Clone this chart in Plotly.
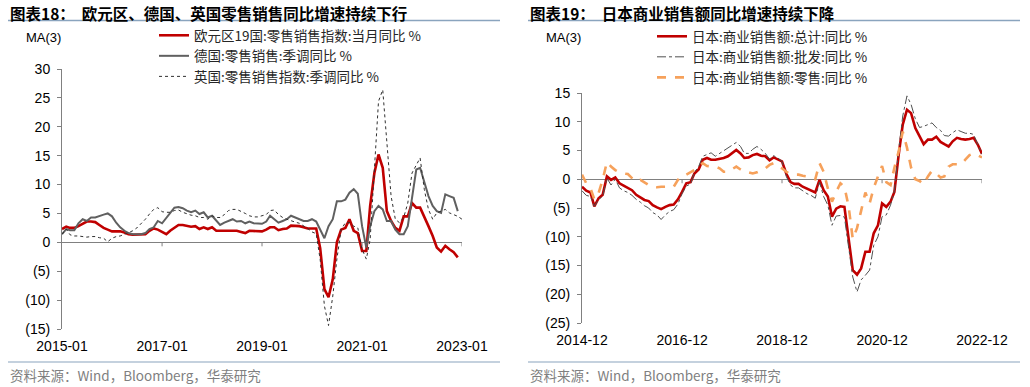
import pandas as pd
import plotly.graph_objects as go

# ---------------- data ----------------
eu_dates = pd.date_range("2015-01-01", periods=97, freq="MS")
euro_retail = [2.3, 2.7, 2.5, 2.5, 2.8, 3.2, 3.6, 3.6, 3.5, 3.0,
               2.5, 2.2, 1.9, 1.9, 1.9, 1.7, 1.4, 1.3, 1.3, 1.4,
               1.4, 2.0, 2.4, 2.2, 1.8, 1.4, 2.0, 2.5, 3.0, 3.0,
               2.9, 2.7, 2.8, 2.3, 2.6, 2.3, 2.6, 2.0, 2.0, 2.0,
               2.0, 1.9, 2.0, 1.8, 1.6, 2.0, 2.0, 2.0, 1.9, 2.2,
               2.6, 2.6, 2.1, 2.3, 2.4, 2.9, 2.9, 2.8, 2.6, 2.4,
               2.4, 2.4, -1.0, -8.1, -9.5, -6.4, 0.0, 2.2, 2.5, 4.0,
               2.0, 1.6, -1.5, -1.5, 6.3, 12.0, 15.2, 12.9, 5.4, 3.7,
               2.5, 2.0, 4.5, 4.5, 6.8, 6.0, 6.0, 4.5, 2.8, 1.1,
               -0.9, -1.6, -0.6, -1.2, -1.7, -2.6]
germany_retail = [1.4, 2.3, 2.1, 2.1, 3.3, 4.0, 3.7, 4.3, 4.3, 4.6,
                  4.8, 5.0, 4.5, 3.4, 2.6, 2.0, 1.6, 1.4, 1.4, 1.4,
                  1.6, 2.3, 2.6, 3.7, 3.3, 4.3, 5.2, 6.0, 6.1, 5.9,
                  5.5, 5.2, 5.5, 4.9, 5.2, 4.3, 4.6, 3.7, 3.0, 3.4,
                  3.7, 4.0, 3.6, 3.7, 3.3, 3.6, 3.3, 3.2, 3.2, 3.6,
                  4.6, 4.0, 3.4, 3.7, 4.0, 4.6, 4.3, 3.9, 3.7, 3.7,
                  4.0, 3.6, 2.3, 0.7, 2.8, 4.0, 7.1, 7.1, 7.4, 8.6,
                  9.2, 8.4, 2.8, -0.9, 2.8, 5.4, 6.3, 5.7, 3.7, 3.7,
                  2.2, 1.4, 1.4, 2.8, 7.7, 12.6, 12.9, 10.6, 8.0, 6.3,
                  5.4, 5.1, 8.3, 8.0, 7.7, 5.4]
uk_retail = [1.4, 2.3, 1.3, 1.1, 1.1, 1.0, 0.9, 1.0, 1.0, 0.8,
             0.7, 0.1, 0.7, 1.0, 1.1, 1.4, 1.7, 2.0, 2.5, 3.2,
             4.0, 4.9, 5.7, 6.0, 5.3, 5.2, 5.2, 5.5, 5.6, 5.2,
             4.9, 4.7, 4.6, 4.3, 4.3, 4.0, 4.6, 4.3, 4.3, 4.8,
             5.5, 5.7, 5.7, 5.4, 5.0, 4.6, 4.4, 4.4, 4.6, 4.8,
             5.5, 5.6, 4.8, 4.3, 4.0, 3.7, 3.5, 3.3, 2.9, 2.4,
             1.8, 1.5, -3.0, -11.0, -14.4, -9.3, -2.9, 2.2, 3.4, 3.4,
             2.8, 2.5, -1.2, -2.9, 0.5, 13.7, 24.4, 26.4, 16.6, 8.0,
             4.0, 3.4, 4.3, 6.8, 12.0, 13.4, 14.6, 9.1, 5.7, 4.0,
             5.1, 5.4, 5.7, 5.1, 4.8, 4.5, 4.0]

jp_dates = pd.date_range("2014-12-01", periods=97, freq="MS")
jp_total = [-1.3, -2.0, -2.3, -4.7, -3.3, -2.7, 0.5, -0.1, 0.3, -0.7,
            -1.1, -1.5, -1.9, -2.7, -3.1, -3.6, -3.8, -4.5, -4.9, -5.2,
            -4.8, -4.5, -4.4, -3.5, -2.2, -0.7, -0.5, 1.0, 1.7, 3.4,
            3.7, 3.4, 3.4, 3.5, 3.7, 4.0, 4.5, 5.1, 4.5, 3.7,
            3.8, 4.2, 4.4, 4.1, 4.0, 3.3, 3.8, 3.5, 3.1, 1.0,
            -0.5, -0.8, -0.8, -1.3, -1.6, -2.0, -2.3, -0.1, -1.9, -3.0,
            -6.5, -5.1, -4.7, -4.8, -10.0, -15.8, -16.6, -15.5, -12.6, -12.6,
            -9.4, -8.0, -4.2, -4.8, -3.9, -2.2, 4.2, 9.5, 12.1, 11.5,
            8.9, 7.4, 6.1, 6.9, 6.9, 7.4, 6.5, 6.1, 5.7, 6.6,
            7.2, 7.0, 6.9, 7.0, 7.2, 6.0, 4.4]
jp_wholesale = [-2.0, -2.8, -3.0, -4.7, -3.5, -3.0, 0.2, -1.0, 0.0, -1.5,
                -2.0, -2.3, -2.8, -3.5, -4.0, -4.6, -5.0, -5.8, -6.2, -7.0,
                -6.2, -5.6, -5.3, -4.3, -2.5, -1.2, -0.8, 1.2, 2.2, 4.0,
                4.3, 4.6, 4.0, 4.5, 5.0, 5.4, 6.0, 6.4, 5.7, 4.5,
                4.5, 5.2, 5.7, 5.2, 4.5, 3.5, 4.1, 3.7, 3.1, 0.5,
                -1.0, -1.5, -1.5, -2.0, -2.5, -2.8, -3.3, -0.5, -3.0, -4.5,
                -8.0, -6.4, -6.3, -6.6, -12.0, -17.0, -19.6, -17.5, -16.7, -15.8,
                -11.5, -10.0, -6.5, -6.2, -4.5, -2.0, 5.0, 11.0, 14.5, 13.0,
                10.5, 9.0, 9.2, 9.5, 9.8, 9.0, 8.5, 7.6, 7.5, 8.1,
                8.6, 8.3, 8.0, 8.0, 7.8, 6.0, 4.4]
jp_retail = [0.8, -0.7, -1.6, -3.5, -2.4, -0.1, 3.0, 2.2, 1.6, 1.2,
             1.0, 0.9, 0.2, -0.4, -0.1, -0.6, -1.0, -1.3, -1.4, -1.3,
             -1.3, -1.4, -1.3, -0.1, 0.6, 0.8, 1.2, 1.6, 2.2, 2.8,
             2.3, 2.2, 2.2, 1.9, 1.3, 1.3, 1.7, 2.2, 1.7, 1.3,
             1.2, 1.0, 1.2, 1.5, 1.9, 2.5, 2.8, 2.2, 1.9, 1.3,
             0.9, 0.8, 0.8, 0.6, 0.5, 0.2, 0.0, 2.8, 1.3, -1.6,
             -3.9, -2.2, -0.7, -1.3, -4.8, -10.4, -8.5, -5.5, -2.3, -4.2,
             -1.5, 0.5, 2.3, -0.5, -1.0, 2.0, 4.8, 8.3, 5.5, 2.0,
             0.0, -0.3, -0.9, 0.5, 1.5, 1.0, 0.3, 0.5, 2.2, 2.6,
             2.6, 2.6, 3.4, 4.2, 4.5, 4.1, 3.8]

left_names = ["欧元区19国:零售销售指数:当月同比 %", "德国:零售销售:季调同比 %", "英国:零售销售指数:季调同比 %"]
right_names = ["日本:商业销售额:总计:同比 %", "日本:商业销售额:批发:同比 %", "日本:商业销售额:零售:同比 %"]

left_yvals = [-15, -10, -5, 0, 5, 10, 15, 20, 25, 30]
left_ytext = ["(15)", "(10)", "(5)", "0", "5", "10", "15", "20", "25", "30"]
right_yvals = [-25, -20, -15, -10, -5, 0, 5, 10, 15]
right_ytext = ["(25)", "(20)", "(15)", "(10)", "(5)", "0", "5", "10", "15"]
left_xticks = ["2015-01", "2017-01", "2019-01", "2021-01", "2023-01"]
right_xticks = ["2014-12", "2016-12", "2018-12", "2020-12", "2022-12"]

# ---------------- figure ----------------
W, H = 1030, 387
RED = "#C00000"
AXC = "#808080"
TICKFONT = dict(family="Liberation Sans, Arial", size=14, color="#000000")
LEGFONT = dict(family="Noto Sans CJK SC, Liberation Sans", size=13.5, color="#262626")

fig = go.Figure()
fig.add_trace(go.Scatter(x=eu_dates[:96], y=euro_retail, name=left_names[0], mode="lines",
                         line=dict(color=RED, width=2.6), xaxis="x", yaxis="y", legend="legend"))
fig.add_trace(go.Scatter(x=eu_dates[:96], y=germany_retail, name=left_names[1], mode="lines",
                         line=dict(color="#606060", width=2), xaxis="x", yaxis="y", legend="legend"))
fig.add_trace(go.Scatter(x=eu_dates, y=uk_retail, name=left_names[2], mode="lines",
                         line=dict(color="#303030", width=1, dash="dot"), xaxis="x", yaxis="y", legend="legend"))

fig.add_trace(go.Scatter(x=jp_dates, y=jp_total, name=right_names[0], mode="lines",
                         line=dict(color=RED, width=2.6), xaxis="x2", yaxis="y2", legend="legend2"))
fig.add_trace(go.Scatter(x=jp_dates, y=jp_wholesale, name=right_names[1], mode="lines",
                         line=dict(color="#505050", width=1, dash="dashdot"), xaxis="x2", yaxis="y2", legend="legend2"))
fig.add_trace(go.Scatter(x=jp_dates, y=jp_retail, name=right_names[2], mode="lines",
                         line=dict(color="#F6A15B", width=2.6, dash="dash"), xaxis="x2", yaxis="y2", legend="legend2"))


def px_x(s):
    """screen x (px) -> paper fraction"""
    return s / W


def px_y(s):
    """screen y (px, from top) -> paper fraction"""
    return 1 - s / H


xa_common = dict(type="date", showgrid=False, zeroline=False, showline=False, ticks="",
                 tickfont=TICKFONT, ticklabelstandoff=7)
ya_common = dict(showgrid=False, showline=True, linecolor=AXC, linewidth=1, ticks="outside",
                 ticklen=4, tickcolor=AXC, tickfont=TICKFONT, zeroline=True, zerolinecolor=AXC,
                 zerolinewidth=1, ticklabelstandoff=4)

fig.update_layout(
    width=W, height=H, margin=dict(l=0, r=0, t=0, b=0, pad=0, autoexpand=False),
    paper_bgcolor="white", plot_bgcolor="rgba(0,0,0,0)",
    xaxis=dict(xa_common, domain=[px_x(62), px_x(462)], range=["2015-01-01", "2023-01-01"],
               tickvals=left_xticks, ticktext=left_xticks, anchor="y"),
    yaxis=dict(ya_common, domain=[px_y(329), px_y(69)], range=[-15, 30],
               tickvals=left_yvals, ticktext=left_ytext, anchor="x"),
    xaxis2=dict(xa_common, domain=[px_x(582), px_x(982)], range=["2014-12-01", "2022-12-01"],
                tickvals=right_xticks, ticktext=right_xticks, anchor="y2"),
    yaxis2=dict(ya_common, domain=[px_y(323), px_y(93)], range=[-25, 15],
                tickvals=right_yvals, ticktext=right_ytext, anchor="x2"),
    legend=dict(x=px_x(154), y=px_y(20), xanchor="left", yanchor="top", font=LEGFONT,
                bgcolor="rgba(0,0,0,0)", itemwidth=30, tracegroupgap=0),
    legend2=dict(x=px_x(652), y=px_y(21), xanchor="left", yanchor="top", font=LEGFONT,
                 bgcolor="rgba(0,0,0,0)", itemwidth=30, tracegroupgap=0),
    showlegend=True,
)

# x-axis ticks sitting on the zero line
for t in left_xticks[1:]:
    fig.add_shape(type="line", xref="x", yref="y", x0=t, x1=t, ysizemode="pixel", yanchor=0,
                  y0=0, y1=-4, line=dict(color=AXC, width=1))
for t in right_xticks[1:]:
    fig.add_shape(type="line", xref="x2", yref="y2", x0=t, x1=t, ysizemode="pixel", yanchor=0,
                  y0=0, y1=-4, line=dict(color=AXC, width=1))

# titles, rules, sources
TITLE_FONT = dict(family="Noto Sans CJK SC", size=15.5, color="#000000")
SRC_FONT = dict(family="Noto Sans CJK SC, Liberation Sans", size=13.5, color="#7F7F7F")
RULE = "#8AA4BE"
for x0, x1, title in [(8, 500, "<b>图表18：  欧元区、德国、英国零售销售同比增速持续下行</b>"),
                      (528, 1020, "<b>图表19：  日本商业销售额同比增速持续下降</b>")]:
    fig.add_annotation(text=title, xref="paper", yref="paper", x=px_x(x0), y=px_y(0),
                       xanchor="left", yanchor="top", showarrow=False, font=TITLE_FONT)
    fig.add_shape(type="line", xref="paper", yref="paper", x0=px_x(x0), x1=px_x(x1),
                  y0=px_y(20.5), y1=px_y(20.5), line=dict(color=RULE, width=1.5))
    fig.add_shape(type="line", xref="paper", yref="paper", x0=px_x(x0), x1=px_x(x1),
                  y0=px_y(362), y1=px_y(362), line=dict(color=RULE, width=1.2))
    fig.add_annotation(text="资料来源：Wind，Bloomberg，华泰研究", xref="paper", yref="paper",
                       x=px_x(x0), y=px_y(363), xanchor="left", yanchor="top", showarrow=False,
                       font=SRC_FONT)

for x, y in [(24, 28), (544, 28)]:
    fig.add_annotation(text="MA(3)", xref="paper", yref="paper", x=px_x(x), y=px_y(y),
                       xanchor="left", yanchor="top", showarrow=False,
                       font=dict(family="Liberation Sans, Arial", size=13, color="#000000"))

# remove the page's default body margin so the figure sits at the window corner
fig.write_html("out.html", config={"displayModeBar": False},
               post_script="document.body.style.margin='0px';")
